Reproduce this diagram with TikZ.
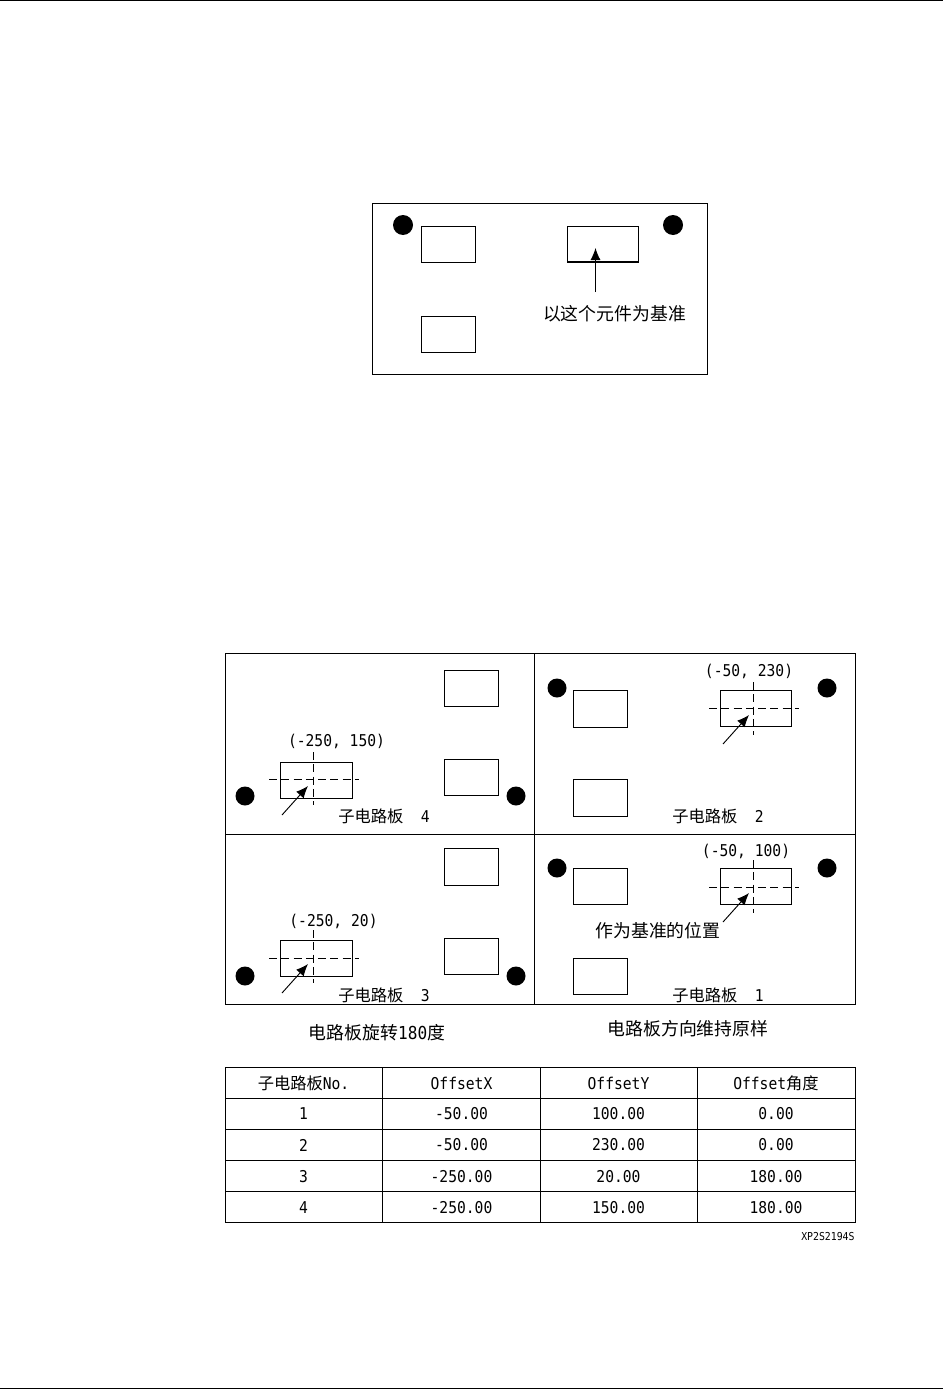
\documentclass[tikz,border=0pt]{standalone}
\usepackage{fontspec}
\usetikzlibrary{arrows.meta}
\setmainfont{Noto Sans CJK SC}
\newfontfamily\latf[FakeStretch=.9]{DejaVu Sans Mono}
\newcommand{\lat}[1]{{\latf #1}}
\tikzset{
  x=0.75pt,y=-0.75pt,
  every path/.style={line width=0.65pt,black},
  box/.style={draw=black,fill=white,line width=0.65pt},
  hole/.style={fill=black,draw=none},
  cross/.style={draw=black,line width=0.7pt,dash pattern=on 6pt off 3.2pt},
  pointer/.style={draw=black,line width=0.7pt,-{Latex[length=9pt,width=7.5pt]}},
  big/.style={inner sep=0pt,font=\fontsize{13.4pt}{15pt}\selectfont},
  small/.style={inner sep=0pt,font=\fontsize{12.2pt}{15pt}\selectfont},
  cell/.style={inner sep=0pt,font=\fontsize{12.2pt}{15pt}\selectfont},
}
\newcommand{\holes}[5]{% name, x1, x2, y, r
  \fill[hole] (#2,#4) circle[radius=#5];
  \fill[hole] (#3,#4) circle[radius=#5];}
\begin{document}
\begin{tikzpicture}
\useasboundingbox (0,0) rectangle (943,1391);
\fill[white] (0,0) rectangle (943,1391);
% page rules
\coordinate (tl) at (0,0.5); \coordinate (tr) at (943,0.5);
\coordinate (bl) at (0,1388.5); \coordinate (br) at (943,1388.5);
\draw[line width=1pt] (tl) -- (tr);
\draw[line width=1pt] (bl) -- (br);

% top board
\draw[box] (372,203) rectangle (707,374);
\holes{a}{403}{673}{225}{10}
\draw[box] (421,226) rectangle (475,262);
\draw[box] (421,316) rectangle (475,352);
\draw[box] (567,226) rectangle (638,262);
\coordinate (t1) at (567,262); \coordinate (t2) at (638,262);
\draw[line width=1.7pt] (t1) -- (t2);
\coordinate (a0) at (595.5,292); \coordinate (a1) at (595.5,248);
\draw[pointer] (a0) -- (a1);
\node[big] (lbase) at (614.5,314) {以这个元件为基准};

% panel grid
\draw[box] (225,653.5) rectangle (855,1004.5);
\coordinate (g1) at (534.5,653.5); \coordinate (g2) at (534.5,1004.5);
\coordinate (g3) at (225,834); \coordinate (g4) at (855,834);
\draw (g1) -- (g2);
\draw (g3) -- (g4);

% board 4
\draw[box] (444,670) rectangle (498,706);
\draw[box] (444,759) rectangle (498,795);
\draw[box] (280,762) rectangle (352,798);
\holes{b}{245}{516}{796}{9.5}
\coordinate (c4a) at (269,779); \coordinate (c4b) at (359,779);
\coordinate (c4c) at (313,752); \coordinate (c4d) at (313,805);
\draw[cross] (c4a) -- (c4b); \draw[cross] (c4c) -- (c4d);
\coordinate (p4a) at (282,815); \coordinate (p4b) at (308,786);
\draw[pointer] (p4a) -- (p4b);
\node[small] (l4) at (336.5,741) {\lat{(-250, 150)}};
\node[small] (n4) at (384,816) {子电路板\lat{\ \ 4}};

% board 2
\draw[box] (573,690) rectangle (627,727);
\draw[box] (573,779) rectangle (627,816);
\draw[box] (720,690) rectangle (791,726);
\holes{c}{557}{827}{688}{9.5}
\coordinate (c2a) at (709,708); \coordinate (c2b) at (799,708);
\coordinate (c2c) at (753.5,682); \coordinate (c2d) at (753.5,735);
\draw[cross] (c2a) -- (c2b); \draw[cross] (c2c) -- (c2d);
\coordinate (p2a) at (723,744); \coordinate (p2b) at (749,715);
\draw[pointer] (p2a) -- (p2b);
\node[small] (l2) at (749,671) {\lat{(-50, 230)}};
\node[small] (n2) at (718,816) {子电路板\lat{\ \ 2}};

% board 3
\draw[box] (444,848) rectangle (498,885);
\draw[box] (444,938) rectangle (498,974);
\draw[box] (280,940) rectangle (352,976);
\holes{d}{245}{516}{976}{9.5}
\coordinate (c3a) at (269,958); \coordinate (c3b) at (359,958);
\coordinate (c3c) at (313,930); \coordinate (c3d) at (313,983);
\draw[cross] (c3a) -- (c3b); \draw[cross] (c3c) -- (c3d);
\coordinate (p3a) at (282,993); \coordinate (p3b) at (308,964);
\draw[pointer] (p3a) -- (p3b);
\node[small] (l3) at (333.5,921) {\lat{(-250, 20)}};
\node[small] (n3) at (384,995) {子电路板\lat{\ \ 3}};

% board 1
\draw[box] (573,868) rectangle (627,904);
\draw[box] (573,958) rectangle (627,994);
\draw[box] (720,868) rectangle (791,904);
\holes{e}{557}{827}{868}{9.5}
\coordinate (c1a) at (709,887); \coordinate (c1b) at (799,887);
\coordinate (c1c) at (753.5,860); \coordinate (c1d) at (753.5,913);
\draw[cross] (c1a) -- (c1b); \draw[cross] (c1c) -- (c1d);
\coordinate (p1a) at (723,922); \coordinate (p1b) at (749,893);
\draw[pointer] (p1a) -- (p1b);
\node[small] (l1) at (746,851) {\lat{(-50, 100)}};
\node[big] (lpos) at (658,931) {作为基准的位置};
\node[small] (n1) at (718,995) {子电路板\lat{\ \ 1}};

% captions
\node[big] (capl) at (377,1032.5) {电路板旋转\lat{180}度};
\node[big] (capr) at (688,1029) {电路板方向维持原样};

% table
\draw[box] (225,1067.5) rectangle (855,1222.5);
\foreach \yy in {1098.5,1129.5,1160.5,1191.5}{\draw (225,\yy) -- (855,\yy);}
\foreach \xx in {382.5,540.5,697.5}{\draw (\xx,1067.5) -- (\xx,1222.5);}
\node[cell] (h1) at (303.5,1083) {子电路板\lat{No.}};
\node[cell] (h2) at (461.5,1083) {\lat{OffsetX}};
\node[cell] (h3) at (618.5,1083) {\lat{OffsetY}};
\node[cell] (h4) at (776,1083) {\lat{Offset}角度};
\node[cell] (r1a) at (303.5,1114) {\lat{1}};
\node[cell] (r1b) at (461.5,1114) {\lat{-50.00}};
\node[cell] (r1c) at (618.5,1114) {\lat{100.00}};
\node[cell] (r1d) at (776,1114) {\lat{0.00}};
\node[cell] (r2a) at (303.5,1145) {\lat{2}};
\node[cell] (r2b) at (461.5,1145) {\lat{-50.00}};
\node[cell] (r2c) at (618.5,1145) {\lat{230.00}};
\node[cell] (r2d) at (776,1145) {\lat{0.00}};
\node[cell] (r3a) at (303.5,1176.5) {\lat{3}};
\node[cell] (r3b) at (461.5,1176.5) {\lat{-250.00}};
\node[cell] (r3c) at (618.5,1176.5) {\lat{20.00}};
\node[cell] (r3d) at (776,1176.5) {\lat{180.00}};
\node[cell] (r4a) at (303.5,1207.5) {\lat{4}};
\node[cell] (r4b) at (461.5,1207.5) {\lat{-250.00}};
\node[cell] (r4c) at (618.5,1207.5) {\lat{150.00}};
\node[cell] (r4d) at (776,1207.5) {\lat{180.00}};
\node[inner sep=0pt,anchor=east,font=\fontsize{8.2pt}{10pt}\selectfont] (code) at (855,1237) {\lat{XP2S2194S}};
\end{tikzpicture}
\end{document}
